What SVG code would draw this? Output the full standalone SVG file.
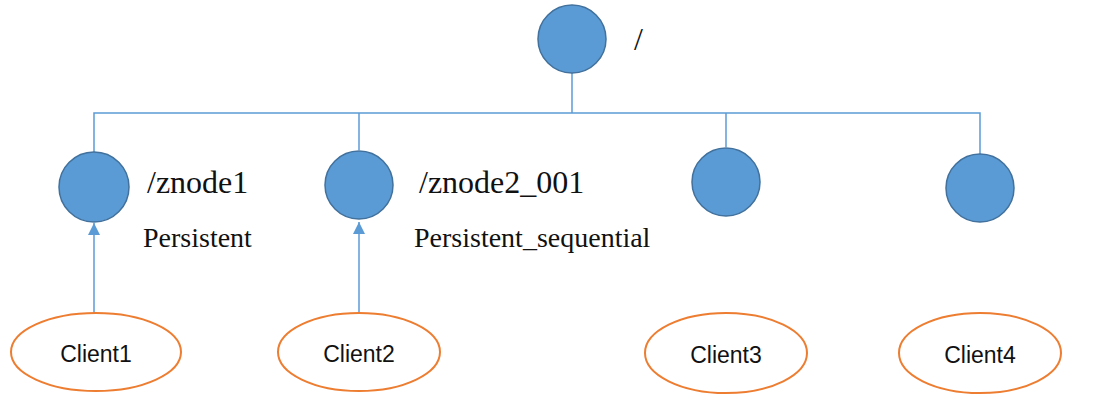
<svg xmlns="http://www.w3.org/2000/svg" width="1110" height="401" viewBox="0 0 1110 401">
  <style>
    .znode { fill: #5b9bd5; stroke: #41719c; stroke-width: 1.5; }
    .client { fill: #ffffff; stroke: #ed7d31; stroke-width: 2; }
    .wire { fill: none; stroke: #5b9bd5; stroke-width: 1.5; }
    .path { font-family: "Liberation Serif", "Times New Roman", serif; font-size: 32px; fill: #111; }
    .mode { font-family: "Liberation Serif", "Times New Roman", serif; font-size: 28px; fill: #111; }
    .cname { font-family: "Liberation Sans", Arial, sans-serif; font-size: 23px; fill: #111; text-anchor: middle; }
  </style>
  <defs>
    <marker id="tip" viewBox="0 0 12 12" refX="12" refY="6" markerWidth="12" markerHeight="12" markerUnits="userSpaceOnUse" orient="auto">
      <path d="M0,0 L12,6 L0,12 Z" fill="#5b9bd5"/>
    </marker>
  </defs>

  <rect width="1110" height="401" fill="#ffffff"/>

  <!-- tree edges and client watches -->
  <g id="connectors">
    <path class="wire" d="M572,73 V113"/>
    <path class="wire" d="M94,152 V113 H980 V154"/>
    <path class="wire" d="M359,113 V150"/>
    <path class="wire" d="M726,113 V147"/>
    <path class="wire" d="M94,314 V223" marker-end="url(#tip)"/>
    <path class="wire" d="M359,314 V222" marker-end="url(#tip)"/>
  </g>

  <g id="root">
    <circle class="znode" cx="572" cy="39" r="34"/>
    <text class="path" x="634" y="50">/</text>
  </g>

  <g id="znode1">
    <circle class="znode" cx="94" cy="187" r="35"/>
    <text class="path" x="147" y="193">/znode1</text>
    <text class="mode" x="143" y="247">Persistent</text>
  </g>

  <g id="znode2_001">
    <circle class="znode" cx="359" cy="185" r="34"/>
    <text class="path" x="419" y="193">/znode2_001</text>
    <text class="mode" x="414" y="247">Persistent_sequential</text>
  </g>

  <g id="znode3">
    <circle class="znode" cx="726" cy="182" r="34"/>
  </g>

  <g id="znode4">
    <circle class="znode" cx="980" cy="188" r="34"/>
  </g>

  <g id="client1">
    <ellipse class="client" cx="96" cy="352" rx="85" ry="39"/>
    <text class="cname" x="96" y="362">Client1</text>
  </g>

  <g id="client2">
    <ellipse class="client" cx="359" cy="352" rx="81" ry="39"/>
    <text class="cname" x="359" y="362">Client2</text>
  </g>

  <g id="client3">
    <ellipse class="client" cx="726" cy="353" rx="81" ry="40"/>
    <text class="cname" x="726" y="363">Client3</text>
  </g>

  <g id="client4">
    <ellipse class="client" cx="980" cy="353" rx="81" ry="40"/>
    <text class="cname" x="980" y="363">Client4</text>
  </g>
</svg>
